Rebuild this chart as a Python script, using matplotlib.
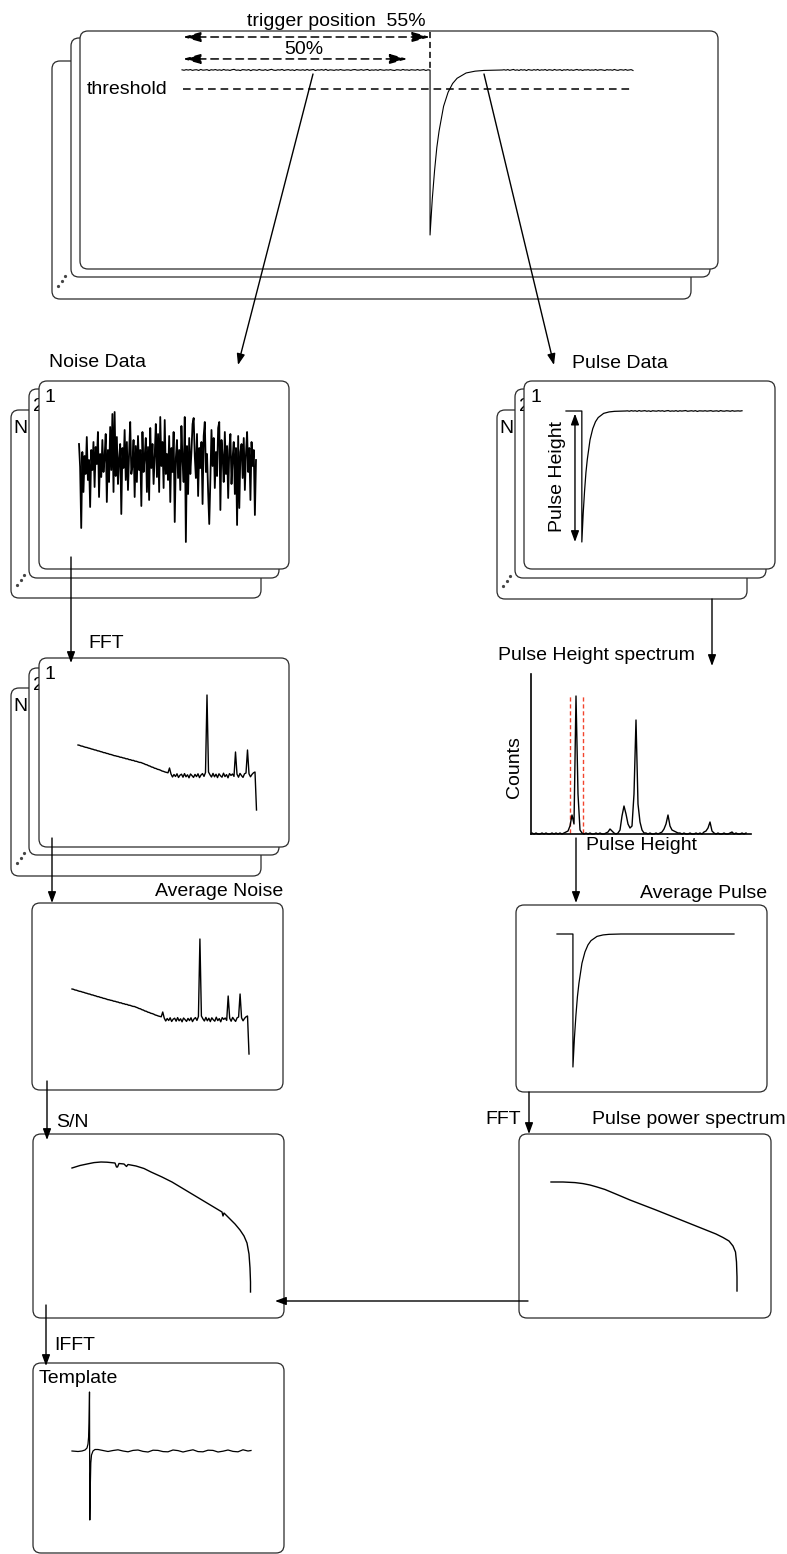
import numpy as np
import matplotlib
matplotlib.use("Agg")
import matplotlib.pyplot as plt
from matplotlib.patches import FancyBboxPatch

plt.rcParams['font.family'] = ['Liberation Sans', 'DejaVu Sans']
plt.rcParams['font.size'] = 14

W, H = 787, 1554
INK = 'black'
EDGE = '#2a2a2a'
RED = '#f2452e'
FS = 14

# ---------------------------------------------------------------- data
# pulse recovery shape: time in decay constants, amplitude relative to pulse height
PULSE_T = [0, 0.25, 0.5, 0.75, 1.0, 1.5, 2.0, 2.5, 3.0, 4.0, 5.0, 6.0, 8.0]
PULSE_A = [-1.0, -0.78, -0.61, -0.47, -0.37, -0.22, -0.135, -0.082, -0.05,
           -0.018, -0.007, -0.0025, 0.0]

TRIGGER_POS = 0.55      # trigger position within the record
PRETRIGGER_POS = 0.50   # noise window length
THRESHOLD = -0.115      # trigger threshold, relative to pulse height

# raw record baseline jitter (per-mille of pulse height)
RAW_PRE = [2, -3, 4, -1, 5, -4, 1, 3, -5, 6, -2, 0, 4, -6, 3, -1, 5, -3, 2, -4,
           6, -2, 1, -5, 3, 7, -3, 0, -6, 4, 2, -2, 5, -7, 3, 1, -4, 6, -1, -3,
           4, -5, 2, 7, -2, -4, 3, -1, 6, -5, 1, 4, -3, 2, -6, 5, 0, -2, 3, -4,
           6, -3, 1, 5, -6, 2, -1, 4, -3, 7, -5, 2, 0, -4, 3, -2, 5, -1, -3, 2,
           1, -4, 3, 5, -2, -1, 4, -3, 2, 6, -5, 1, -2, 3, -4, 5, 0, -3, 2, -1,
           4, -2, -5, 3, 1, -3, 6, -1, 2, -4, 3, 0, -2, 5, -3, 1, 4, -5, 2, -1]
RAW_POST = [3, -2, 5, -4, 1, 6, -3, 2, -5, 4, -1, 3, -6, 5, 0, -3, 4, -2, 6, -4,
            2, -1, 5, -5, 3, 1, -4, 6, -2, 0, 4, -6, 3, -1, 5, -3, 2, -4, 1, 6,
            -2, 3, -5, 2, 0, 4, -3, 1, -2, 5, -4, 2, 3, -1, -5, 4, 0, 2, -3, 6,
            -1, -4, 3, 2, -2, 5, -3, 1, 4, -5]
PULSE1_POST = [2, -3, 4, -1, 3, -4, 5, -2, 1, 4, -3, 2, -5, 3, 0, -2, 4, -1, 3, -4,
               2, 5, -3, 1, -2, 4, -4, 3, -1, 2, 5, -3, 0, 3, -2, 4, -5, 2, 1, -1,
               3, -2, 1, 4, -3, 0, 2, -4, 5, -1, -2, 3, 1, -3, 4, -2, 0, 2, -1, 3]

# first noise record (arbitrary units)
NOISE1 = [18, -5, -66, 10, -30, 6, -12, 25, -18, 2, -45, 12, -8, 20, -25, 15, -2, 30, -35, 8,
          -15, 22, -10, 5, 28, -40, 12, -20, 35, -8, 48, -30, 50, -14, 25, -22, 3, 18, -52, 14,
          -6, 32, -18, 20, -28, 8, 40, -12, -4, 22, -35, 16, -20, 26, -8, 12, -44, 30, -10, 5,
          24, -30, 15, -38, 34, -6, 18, -22, 6, 38, -15, 28, -30, 45, -4, 20, -26, 42, -12, 8,
          -18, 26, -40, 14, -10, 30, -60, 4, 22, -16, 12, -28, 36, 2, -20, 45, -80, 16, -32, 24,
          -12, 10, 38, 44, 6, -16, 28, -34, 14, -6, 20, -42, 26, 40, -10, 8, -30, -62, -18, 32,
          -4, 24, -26, 10, -14, 34, 40, -48, 22, 6, -20, 30, -12, 16, -36, 12, 28, -22, 4, 20,
          -32, 14, -63, 26, -46, 10, 18, -16, 24, -28, 8, 30, -10, 14, -38, 20, -4, 12, -53, 2]

# noise power spectrum (relative, per frequency bin)
NOISE_SPECTRUM = [
    31.0, 30.7, 30.0, 29.8, 29.2, 28.7, 28.5, 27.9, 27.6, 27.0,
    26.7, 26.1, 25.9, 25.2, 25.0, 24.4, 24.1, 23.4, 23.3, 22.6,
    22.4, 21.7, 21.5, 21.0, 20.4, 20.2, 19.7, 19.5, 18.8, 18.7,
    18.1, 17.9, 17.2, 17.2, 16.4, 16.3, 15.6, 15.6, 14.8, 14.7,
    14.1, 13.6, 13.5, 12.8, 12.3, 11.5, 11.2, 10.3, 9.9, 9.0,
    8.7, 7.8, 7.5, 6.7, 6.4, 5.8, 5.0, 4.6, 4.0, 3.6,
    3.2, 8.0,
    2.0, -1.0, 1.5, -0.5, 2.2, -1.5, 0.8, 1.8, -1.2, 2.4,
    -0.8, 1.2, -1.8, 2.0, 0.4, -1.4, 1.6, -0.6, 2.2, -1.6,
    1.0, 2.4, -0.4, 3.5, 81.0, 4.0, 1.2, -1.0, 2.6, -0.8,
    1.8, -1.6, 2.2, 0.2, -1.2, 2.8, -0.6, 1.4, -1.8, 2.4,
    0.6, 2.0, -0.4, 24.0, 1.8, -1.2, 2.6, 0.4, -1.4, 2.2,
    3.0, 26.0, 2.2, -0.8, 1.6, 3.2, 4.0,
    -34.0]

# pulse height histogram
PH_COUNTS = [1, 0, 1, 0, 0, 1, 0, 1, 0, 0, 1, 0, 1, 0, 1, 0,
             1, 2, 3, 8, 19, 10, 138, 40, 4, 1, 0, 1,
             0, 1, 0, 0, 1, 0, 1, 0, 0, 1,
             2, 5, 3, 1, 0, 1,
             4, 18, 28, 20, 10, 6, 8,
             40, 114, 30, 12, 4,
             1, 1, 0, 1, 0, 0, 1, 0, 1, 2,
             5, 10, 19, 8, 4, 3, 2,
             1, 1, 0, 1, 0, 0, 1, 0, 0, 1, 0, 1, 0, 2,
             3, 6, 12, 3, 1,
             0, 1, 0, 0, 1, 0, 0, 1, 2, 0, 1, 0, 0, 1, 0, 1]
PH_WINDOW = [19.5, 26.0]

# signal-to-noise ratio vs frequency
SN_X = [0, 8, 16, 22, 29, 35, 39, 43, 44.5, 45.5, 47, 52, 54.5, 56, 64, 72, 79, 90, 100,
        120, 140, 150, 151, 152, 157, 163, 168, 172, 175, 177, 178, 178.5, 178.5]
SN_Y = [-6, -3.5, -1.8, -0.6, 0, -0.2, -0.6, -1, -5, -5, -1.5, -2, -4.5, -2.5, -4, -6.5, -10, -15, -20,
        -32, -44, -50, -54, -51, -56, -62, -68, -74, -81, -92, -106, -120, -130]

# pulse power spectrum
PPS_X = [0, 12, 24, 32, 39, 46, 54, 66, 79, 105, 130, 155, 165, 172, 178, 182, 184.5,
         185.5, 186, 186]
PPS_Y = [0, 0, -0.6, -1.6, -3, -5, -7.5, -12.5, -18, -28, -38, -48, -52, -55.5, -59,
         -64, -70, -80, -95, -109]

# optimal filter template
TEMPLATE_X = [0, 6, 10, 13, 15, 16, 16.6, 17.0, 17.3, 17.5,
              17.8, 18.2, 18.8, 19.5, 21, 23, 26, 31, 36, 41,
              46, 51, 56, 61, 66, 71, 76, 81, 86, 91,
              96, 101, 106, 111, 116, 121, 126, 131, 136, 141,
              146, 151, 156, 161, 166, 171, 176, 179]
TEMPLATE_Y = [0, -0.5, 0, 1, 3, 7, 14, 28, 45, 59,
              -69, -40, -12, -4, 0, 1.5, 1.5, 0.5, -0.5, 0.5,
              1.2, 0, -0.8, 0.6, 1.0, -0.4, -1.0, 0.8, 0.6, -0.6,
              -0.8, 1.0, 0.4, -1.0, 0.2, 1.2, -0.6, -0.8, 0.8, 0.6,
              -1.0, -0.2, 1.0, -0.4, -0.8, 1.2, 0, 0.5]

# ---------------------------------------------------------------- canvas
fig = plt.figure(figsize=(W / 100, H / 100), dpi=100)
ax = fig.add_axes([0, 0, 1, 1])
ax.set_xlim(0, W)
ax.set_ylim(H, 0)
ax.axis('off')


def panel(x0, y0, x1, y1, z=3, r=8, lw=0.9):
    ax.add_patch(FancyBboxPatch((x0, y0), x1 - x0, y1 - y0,
                                boxstyle=f"round,pad=0,rounding_size={r}",
                                fc='white', ec=EDGE, lw=lw, zorder=z))


def ellipsis(x, y):
    ax.plot([x + 6, x + 9.5, x + 13], [y - 13, y - 18, y - 23], 'o',
            color='#444444', ms=1.3, zorder=1.2)


def stack(front, mid, back, numbered=True):
    panel(*back, z=1)
    ellipsis(back[0], back[3])
    panel(*mid, z=2)
    panel(*front, z=3)
    if numbered:
        ax.text(back[0] + 2, back[1] + 23, 'N', fontsize=FS, zorder=1.5)
        ax.text(mid[0] + 4, mid[1] + 22, '2', fontsize=FS, zorder=2.5)
        ax.text(front[0] + 6, front[1] + 21, '1', fontsize=FS, zorder=3.5)


def arrow(x0, y0, x1, y1, lw=1.0):
    an = ax.annotate('', xy=(x1, y1), xytext=(x0, y0),
                     arrowprops=dict(arrowstyle='-|>,head_length=0.6,head_width=0.22',
                                     mutation_scale=11, lw=lw, color=INK,
                                     shrinkA=0, shrinkB=0))
    an.set_zorder(6)


def label(x, y, s, ha='left', **kw):
    ax.text(x, y, s, ha=ha, va='baseline', fontsize=FS, color=INK, zorder=7, **kw)


def trace_axes(px0, px1, xlim, y_zero, ppu, y_top, y_bot):
    a = fig.add_axes([px0 / W, 1 - y_bot / H, (px1 - px0) / W, (y_bot - y_top) / H])
    a.set_xlim(*xlim)
    a.set_ylim((y_zero - y_bot) / ppu, (y_zero - y_top) / ppu)
    a.axis('off')
    return a


def pulse_record(trig, tau, pre, post, post_scale=1000.0):
    pre = np.asarray(pre, float)
    post = np.asarray(post, float)
    t = np.concatenate([np.linspace(0, trig, len(pre)),
                        trig + tau * np.asarray(PULSE_T),
                        np.linspace(trig + tau * PULSE_T[-1], 1, len(post) + 1)[1:]])
    a = np.concatenate([pre / post_scale, PULSE_A, post / post_scale])
    return t, a


# ---------------------------------------------------------------- raw data stack
stack((80, 31, 718, 269), (71, 38, 710, 277), (52, 61, 691, 299), numbered=False)

tax = trace_axes(182, 633, (0, 1), 70, 165, 20, 245)
t, a = pulse_record(TRIGGER_POS, 0.02, RAW_PRE, RAW_POST, post_scale=1800.0)
tax.plot(t, a, color=INK, lw=0.8, clip_on=False)
dash = (0, (5, 3.2))
tax.plot([0.002, 0.993], [THRESHOLD, THRESHOLD], color=INK, lw=1.1, ls=dash)
tax.plot([TRIGGER_POS, TRIGGER_POS], [0.23, 0.0], color=INK, lw=1.1, ls=(0, (4, 2.5)))
for frac, lev in ((TRIGGER_POS, 0.20), (PRETRIGGER_POS, 0.067)):
    tax.annotate('', xy=(frac, lev), xytext=(0.002, lev),
                 arrowprops=dict(arrowstyle='<|-|>,head_length=0.9,head_width=0.25',
                                 mutation_scale=12, lw=1.1, ls=dash, color=INK,
                                 shrinkA=0, shrinkB=0))
tax.text(PRETRIGGER_POS / 2 + 0.02, 0.095, '50%', ha='center', va='baseline', fontsize=FS)
label(336, 26, 'trigger position  55%', ha='center')
label(87, 94, 'threshold')

arrow(313, 74, 238, 365)
arrow(484, 74, 554, 365)

# ---------------------------------------------------------------- noise records
label(49, 367, 'Noise Data')
stack((39, 381, 289, 569), (29, 389, 279, 578), (11, 410, 261, 598))
nax = trace_axes(79, 256, (0, len(NOISE1) - 1), 462, 1, 400, 550)
nax.plot(np.arange(len(NOISE1)), NOISE1, color=INK, lw=1.3, clip_on=False)

arrow(71, 557, 71, 663)
label(88, 648, 'FFT')

stack((39, 658, 289, 847), (29, 668, 279, 855), (11, 688, 261, 876))
bins = np.arange(len(NOISE_SPECTRUM))
fax = trace_axes(78, 256.5, (0, bins[-1]), 776, 1, 680, 820)
fax.plot(bins, NOISE_SPECTRUM, color=INK, lw=1.0, clip_on=False)

arrow(52, 838, 52, 903)
label(283, 896, 'Average Noise', ha='right')
panel(32, 903, 283, 1090)
aax = trace_axes(72, 249, (0, bins[-1]), 1020, 1, 925, 1065)
aax.plot(bins, NOISE_SPECTRUM, color=INK, lw=1.0, clip_on=False)

arrow(47, 1081, 47, 1140)
label(56, 1127, 'S/N')
panel(33, 1134, 284, 1318)
sax = trace_axes(72, 250, (0, 178), 1162, 1, 1150, 1300)
sax.plot(SN_X, SN_Y, color=INK, lw=1.0, clip_on=False)

arrow(46, 1305, 46, 1366)
label(54, 1350, 'IFFT')
panel(33, 1363, 284, 1553)
label(39, 1383, 'Template')
tpl_ax = trace_axes(72, 251, (0, 179), 1451, 1, 1380, 1530)
tpl_ax.plot(TEMPLATE_X, TEMPLATE_Y, color=INK, lw=0.9, clip_on=False)

# ---------------------------------------------------------------- pulse records
label(572, 368, 'Pulse Data')
stack((524, 381, 775, 569), (515, 389, 766, 578), (497, 410, 747, 599))
pax = trace_axes(566, 742, (0, 1), 411, 131, 395, 550)
t, a = pulse_record(0.09, 0.031, [0, 0], PULSE1_POST, post_scale=1600.0)
pax.plot(t, a, color=INK, lw=0.9, clip_on=False)
pax.annotate('', xy=(0.051, -1.0), xytext=(0.051, -0.02),
             arrowprops=dict(arrowstyle='<|-|>,head_length=0.6,head_width=0.22',
                             mutation_scale=11, lw=1.0, color=INK, shrinkA=0, shrinkB=0))
ax.text(558, 477, 'Pulse Height', rotation=90, ha='center', va='center',
        fontsize=FS, zorder=7)

arrow(712, 599, 712, 666)
label(498, 660, 'Pulse Height spectrum')

hax = fig.add_axes([531 / W, 1 - 834 / H, 220 / W, 160 / H])
hax.set_facecolor('none')
hax.set_xlim(0, 110)
hax.set_ylim(0, 160)
for side in ('top', 'right'):
    hax.spines[side].set_visible(False)
for side in ('left', 'bottom'):
    hax.spines[side].set_linewidth(1.2)
hax.set_xticks([])
hax.set_yticks([])
hax.vlines(PH_WINDOW, 1, 139, colors=RED, linestyles=(0, (3, 2)), lw=1.0)
hax.plot(np.arange(len(PH_COUNTS)) + 0.5, PH_COUNTS, color=INK, lw=1.0, clip_on=False)
ax.text(515, 767, 'Counts', rotation=90, ha='center', va='center', fontsize=FS)
label(641, 850, 'Pulse Height', ha='center')

arrow(576, 838, 576, 903)
label(767, 898, 'Average Pulse', ha='right')
panel(516, 905, 767, 1092)
vax = trace_axes(557, 734, (0, 1), 934, 133, 920, 1075)
t, a = pulse_record(0.09, 0.034, [0, 0], [0, 0])
vax.plot(t, a, color=INK, lw=0.9, clip_on=False)

arrow(529, 1092, 529, 1134)
label(485, 1124, 'FFT')
label(786, 1124, 'Pulse power spectrum', ha='right')
panel(519, 1134, 771, 1318)
wax = trace_axes(551, 737, (0, 186), 1182, 1, 1170, 1300)
wax.plot(PPS_X, PPS_Y, color=INK, lw=1.0, clip_on=False)

arrow(528, 1301, 275, 1301)

fig.savefig('out.png', dpi=100)
